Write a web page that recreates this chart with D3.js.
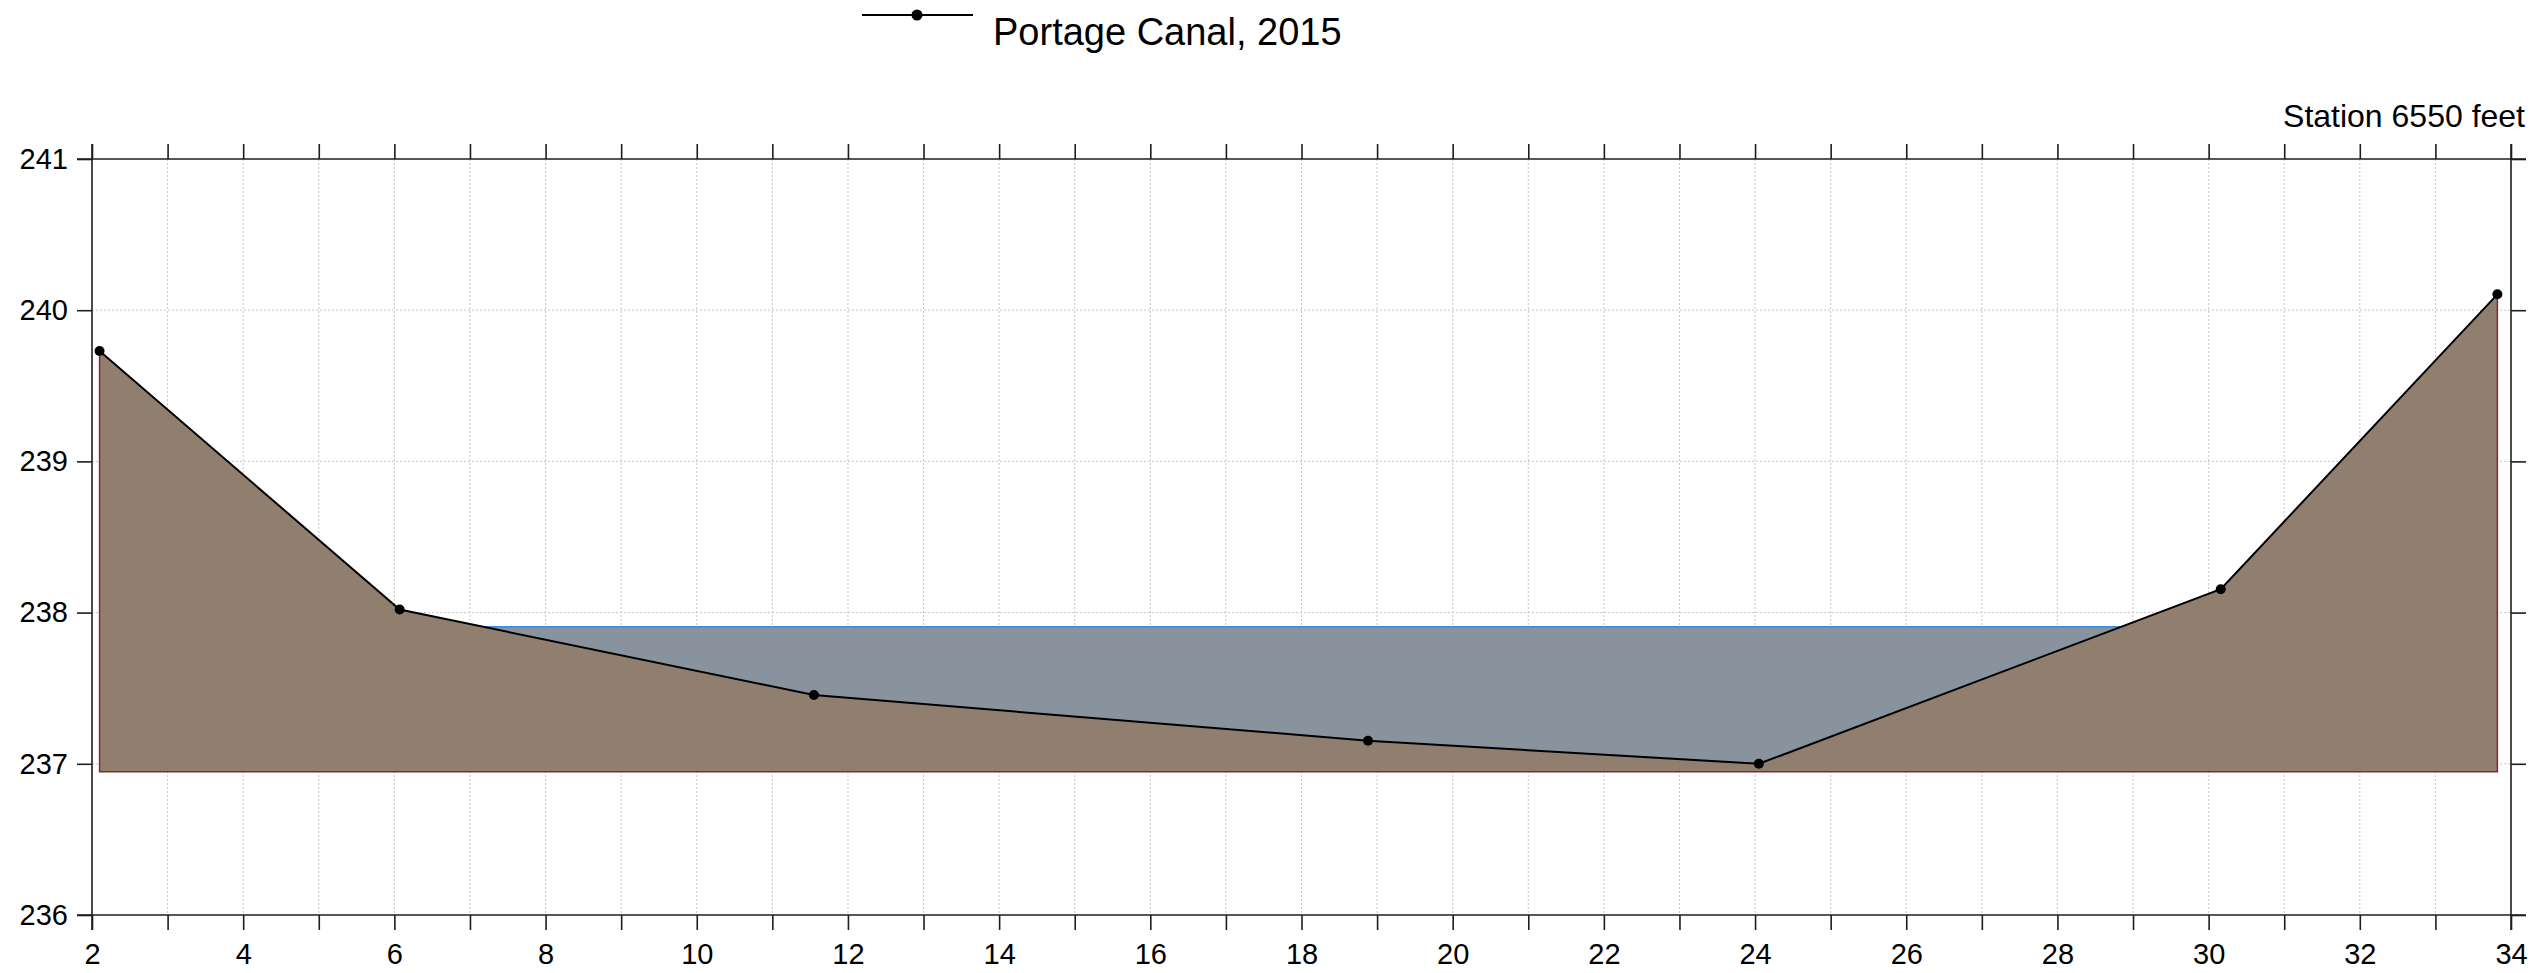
<!DOCTYPE html>
<html>
<head>
<meta charset="utf-8">
<script src="https://cdn.jsdelivr.net/npm/d3@7"></script>
<style>
  html, body { margin: 0; padding: 0; background: #ffffff; }
  svg { display: block; font-family: "Liberation Sans", Arial, sans-serif; }
</style>
</head>
<body>
<svg id="chart" width="2539" height="973"></svg>
<script>
// ---- Data ----
const seriesName = "Portage Canal, 2015";
const stationLabel = "Station 6550 feet";
const stationX = [2.1, 6.07, 11.55, 18.88, 24.05, 30.16, 33.82];
const elevation = [239.73, 238.02, 237.455, 237.153, 237.0, 238.155, 240.105];
const waterLevel = 237.907;
const fillBase = 236.948;
const xTicks = d3.range(2, 35, 1);
const xLabels = [2, 4, 6, 8, 10, 12, 14, 16, 18, 20, 22, 24, 26, 28, 30, 32, 34];
const yTicks = [236, 237, 238, 239, 240, 241];
const yLabels = [236, 237, 238, 239, 240, 241];

// ---- Layout ----
const W = 2539, H = 973;
const margin = { left: 92, right: 28, top: 159, bottom: 58 };
const tickLen = 15;

const svg = d3.select("#chart");
const x = d3.scaleLinear().domain([2, 34]).range([margin.left, W - margin.right]);
const y = d3.scaleLinear().domain([236, 241]).range([H - margin.bottom, margin.top]);

const pts = stationX.map((d, i) => ({ x: d, y: elevation[i] }));

// ---- Gridlines ----
const grid = svg.append("g").attr("class", "grid");
grid.selectAll("line.v").data(xTicks.filter(d => d > 2 && d < 34)).join("line")
  .attr("x1", d => x(d)).attr("x2", d => x(d))
  .attr("y1", y(241)).attr("y2", y(236))
  .attr("stroke", "#c6c6c6").attr("stroke-width", 1).attr("stroke-dasharray", "2,2");
grid.selectAll("line.h").data(yTicks.filter(d => d > 236 && d < 241)).join("line")
  .attr("x1", x(2)).attr("x2", x(34))
  .attr("y1", d => y(d)).attr("y2", d => y(d))
  .attr("stroke", "#c6c6c6").attr("stroke-width", 1).attr("stroke-dasharray", "2,2");

// ---- Ground fill ----
const groundPoly = [{ x: pts[0].x, y: fillBase }, ...pts, { x: pts[pts.length - 1].x, y: fillBase }];
const polyLine = d3.line().x(d => x(d.x)).y(d => y(d.y));
svg.append("path")
  .attr("d", polyLine(groundPoly) + "Z")
  .attr("fill", "#8a7766").attr("fill-opacity", 0.95)
  .attr("stroke", "none");
// dark red edges (sides and base)
svg.append("path")
  .attr("d", polyLine([{ x: pts[pts.length - 1].x, y: pts[pts.length - 1].y },
                       { x: pts[pts.length - 1].x, y: fillBase },
                       { x: pts[0].x, y: fillBase },
                       { x: pts[0].x, y: pts[0].y }]))
  .attr("fill", "none").attr("stroke", "#7e2e2a").attr("stroke-width", 1.5);

// ---- Water fill ----
function crossing(a, b, level) {
  const t = (level - a.y) / (b.y - a.y);
  return { x: a.x + t * (b.x - a.x), y: level };
}
let li = pts.findIndex((p, i) => i < pts.length - 1 && p.y >= waterLevel && pts[i + 1].y < waterLevel);
let ri = pts.findIndex((p, i) => i > 0 && p.y >= waterLevel && pts[i - 1].y < waterLevel);
const leftC = crossing(pts[li], pts[li + 1], waterLevel);
const rightC = crossing(pts[ri - 1], pts[ri], waterLevel);
const waterPoly = [leftC, ...pts.slice(li + 1, ri), rightC];
svg.append("path")
  .attr("d", polyLine(waterPoly) + "Z")
  .attr("fill", "#84909b").attr("fill-opacity", 0.97);
svg.append("line")
  .attr("x1", x(leftC.x)).attr("x2", x(rightC.x))
  .attr("y1", y(waterLevel)).attr("y2", y(waterLevel))
  .attr("stroke", "#3d8be0").attr("stroke-width", 1.5);

// ---- Series line + markers ----
svg.append("path")
  .attr("d", polyLine(pts))
  .attr("fill", "none").attr("stroke", "#000").attr("stroke-width", 2);
svg.selectAll("circle.pt").data(pts).join("circle")
  .attr("cx", d => x(d.x)).attr("cy", d => y(d.y)).attr("r", 5)
  .attr("fill", "#000");

// ---- Axes ----
const axisColor = "#1e1e1e";
function styleAxis(g) {
  g.select(".domain").remove();
  g.selectAll(".tick line").attr("stroke", axisColor).attr("stroke-width", 1.6);
  g.selectAll(".tick text").attr("fill", "#000").style("font-size", "29px")
    .style("font-family", "'Liberation Sans', Arial, sans-serif");
}
const fmtX = d => xLabels.includes(d) ? String(d) : "";
const fmtY = d => yLabels.includes(d) ? String(d) : "";

svg.append("g").attr("transform", `translate(0,${y(236)})`)
  .call(d3.axisBottom(x).tickValues(xTicks).tickFormat(fmtX).tickSize(tickLen).tickPadding(13))
  .call(styleAxis);
svg.append("g").attr("transform", `translate(0,${y(241)})`)
  .call(d3.axisTop(x).tickValues(xTicks).tickFormat("").tickSize(tickLen))
  .call(styleAxis);
svg.append("g").attr("transform", `translate(${x(2)},0)`)
  .call(d3.axisLeft(y).tickValues(yTicks).tickFormat(fmtY).tickSize(tickLen).tickPadding(9))
  .call(styleAxis);
svg.append("g").attr("transform", `translate(${x(34)},0)`)
  .call(d3.axisRight(y).tickValues(yTicks).tickFormat("").tickSize(tickLen))
  .call(styleAxis);

// frame lines extended by tick length
const frame = svg.append("g").attr("stroke", axisColor).attr("stroke-width", 1.6);
frame.append("line").attr("x1", x(2) - tickLen).attr("x2", x(34) + tickLen).attr("y1", y(236)).attr("y2", y(236));
frame.append("line").attr("x1", x(2) - tickLen).attr("x2", x(34) + tickLen).attr("y1", y(241)).attr("y2", y(241));
frame.append("line").attr("x1", x(2)).attr("x2", x(2)).attr("y1", y(241) - tickLen).attr("y2", y(236) + tickLen);
frame.append("line").attr("x1", x(34)).attr("x2", x(34)).attr("y1", y(241) - tickLen).attr("y2", y(236) + tickLen);

// ---- Station label ----
svg.append("text")
  .attr("x", x(34) + tickLen - 1).attr("y", 127)
  .attr("text-anchor", "end")
  .style("font-size", "32px").attr("fill", "#000")
  .text(stationLabel);

// ---- Legend ----
const lg = svg.append("g");
lg.append("line").attr("x1", 862).attr("x2", 973).attr("y1", 15).attr("y2", 15)
  .attr("stroke", "#000").attr("stroke-width", 2);
lg.append("circle").attr("cx", 917).attr("cy", 15).attr("r", 5.5).attr("fill", "#000");
lg.append("text").attr("x", 993).attr("y", 45)
  .style("font-size", "38px").attr("fill", "#000")
  .text(seriesName);
</script>
</body>
</html>
